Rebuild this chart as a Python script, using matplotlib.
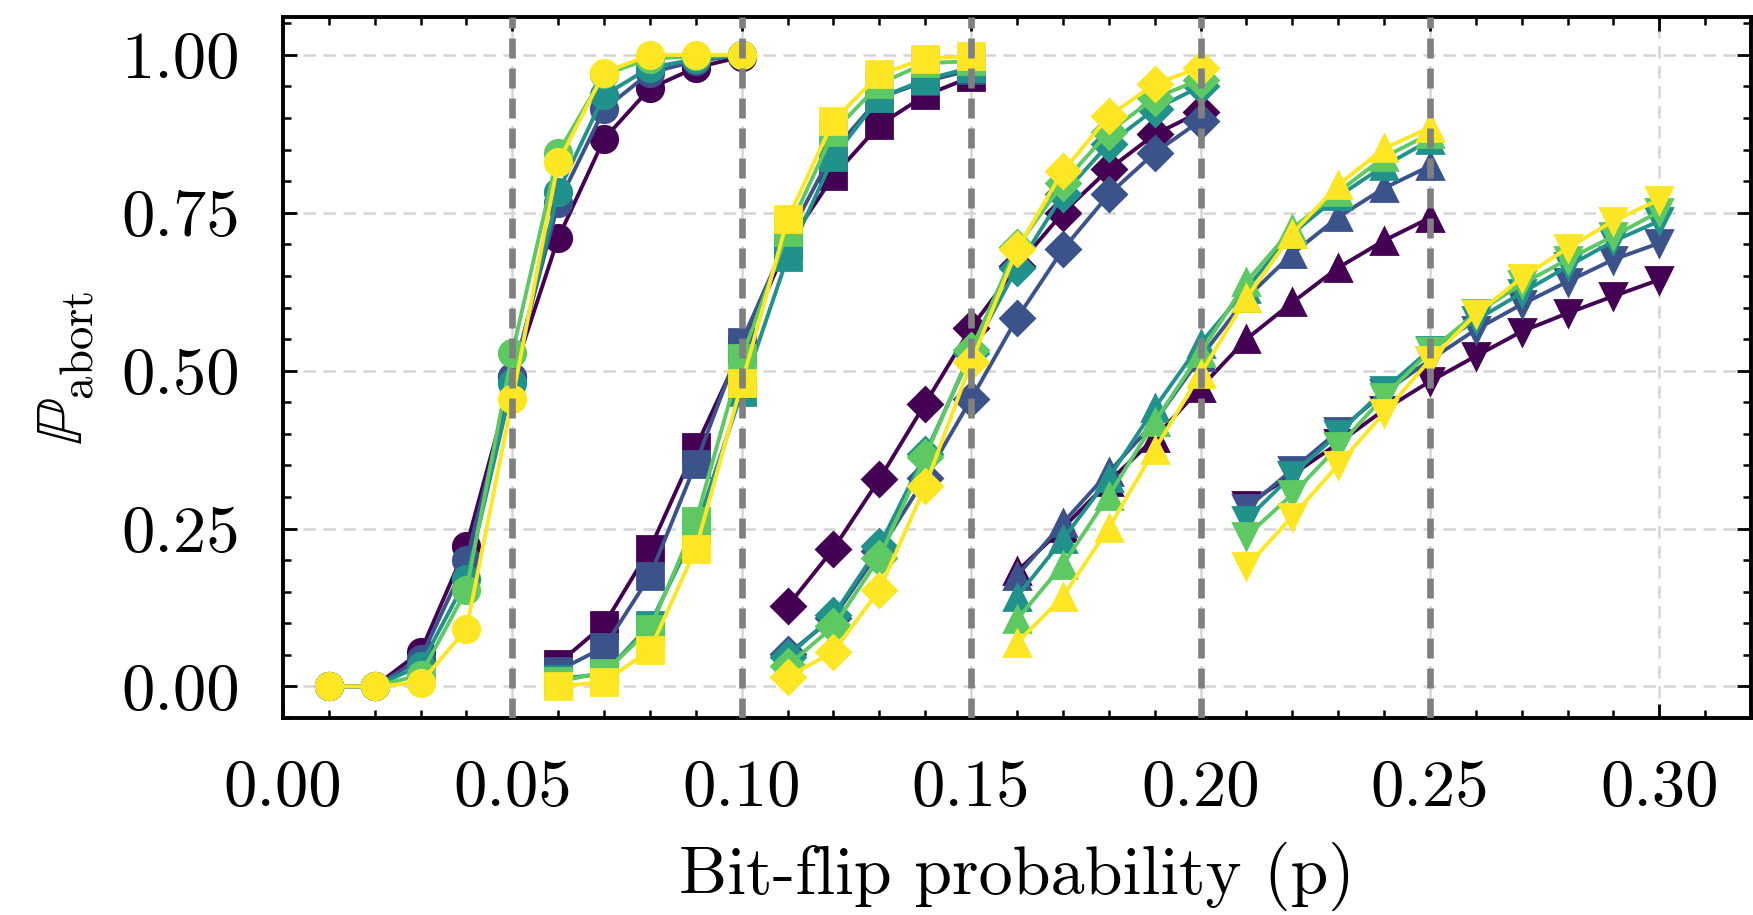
import matplotlib
matplotlib.use("Agg")
import matplotlib.pyplot as plt
import numpy as np
from matplotlib.ticker import MultipleLocator

plt.rcParams['font.family'] = 'serif'
plt.rcParams['font.serif'] = ['cmr10']
plt.rcParams['mathtext.fontset'] = 'cm'
plt.rcParams['axes.formatter.use_mathtext'] = True

# one block of 10 points per marker family
x_circle = [0.01, 0.02, 0.03, 0.04, 0.05, 0.06, 0.07, 0.08, 0.09, 0.10]
x_square = [0.06, 0.07, 0.08, 0.09, 0.10, 0.11, 0.12, 0.13, 0.14, 0.15]
x_diamond = [0.11, 0.12, 0.13, 0.14, 0.15, 0.16, 0.17, 0.18, 0.19, 0.20]
x_tri_up = [0.16, 0.17, 0.18, 0.19, 0.20, 0.21, 0.22, 0.23, 0.24, 0.25]
x_tri_down = [0.21, 0.22, 0.23, 0.24, 0.25, 0.26, 0.27, 0.28, 0.29, 0.30]

# rows: purple, blue, teal, green, yellow
y_circle = [
    [0.0, 0.0, 0.055, 0.222, 0.49, 0.71, 0.867, 0.947, 0.98, 0.997],
    [0.0, 0.0, 0.044, 0.20, 0.49, 0.765, 0.914, 0.972, 0.99, 1.0],
    [0.0, 0.0, 0.033, 0.17, 0.48, 0.783, 0.936, 0.98, 0.993, 1.0],
    [0.0, 0.0, 0.018, 0.153, 0.528, 0.845, 0.969, 0.994, 0.998, 1.0],
    [0.0, 0.0, 0.006, 0.091, 0.455, 0.83, 0.972, 1.0, 1.0, 1.0],
]
y_square = [
    [0.036, 0.098, 0.218, 0.379, 0.535, 0.70, 0.808, 0.889, 0.936, 0.965],
    [0.025, 0.062, 0.175, 0.353, 0.546, 0.71, 0.848, 0.932, 0.958, 0.976],
    [0.012, 0.02, 0.098, 0.248, 0.466, 0.68, 0.838, 0.932, 0.961, 0.98],
    [0.008, 0.022, 0.091, 0.262, 0.52, 0.72, 0.878, 0.954, 0.987, 0.99],
    [0.0, 0.007, 0.058, 0.218, 0.48, 0.74, 0.896, 0.969, 0.994, 0.998],
]
y_diamond = [
    [0.127, 0.218, 0.328, 0.448, 0.568, 0.665, 0.75, 0.819, 0.874, 0.91],
    [0.051, 0.109, 0.215, 0.33, 0.455, 0.583, 0.692, 0.779, 0.845, 0.896],
    [0.047, 0.113, 0.222, 0.368, 0.528, 0.663, 0.779, 0.859, 0.914, 0.95],
    [0.033, 0.095, 0.204, 0.364, 0.532, 0.696, 0.797, 0.878, 0.932, 0.961],
    [0.015, 0.055, 0.153, 0.317, 0.513, 0.692, 0.816, 0.903, 0.954, 0.98],
]
y_tri_up = [
    [0.182, 0.251, 0.324, 0.393, 0.473, 0.55, 0.608, 0.663, 0.706, 0.742],
    [0.175, 0.259, 0.339, 0.419, 0.521, 0.615, 0.685, 0.743, 0.789, 0.824],
    [0.142, 0.233, 0.33, 0.441, 0.543, 0.63, 0.717, 0.776, 0.824, 0.865],
    [0.106, 0.193, 0.302, 0.419, 0.528, 0.641, 0.725, 0.783, 0.838, 0.875],
    [0.069, 0.142, 0.251, 0.375, 0.495, 0.615, 0.717, 0.794, 0.852, 0.885],
]
y_tri_down = [
    [0.288, 0.335, 0.385, 0.438, 0.483, 0.523, 0.562, 0.591, 0.618, 0.644],
    [0.282, 0.343, 0.404, 0.465, 0.517, 0.565, 0.605, 0.641, 0.676, 0.702],
    [0.264, 0.335, 0.40, 0.47, 0.533, 0.58, 0.623, 0.665, 0.705, 0.737],
    [0.238, 0.304, 0.38, 0.459, 0.531, 0.591, 0.637, 0.676, 0.713, 0.752],
    [0.19, 0.269, 0.351, 0.433, 0.517, 0.589, 0.647, 0.694, 0.737, 0.771],
]

groups = [
    (x_circle, y_circle, 'o'),
    (x_square, y_square, 's'),
    (x_diamond, y_diamond, 'D'),
    (x_tri_up, y_tri_up, '^'),
    (x_tri_down, y_tri_down, 'v'),
]
thresholds = [0.05, 0.10, 0.15, 0.20, 0.25]

colors = plt.cm.viridis(np.linspace(0, 1, 5))

fig = plt.figure(figsize=(1753 / 200, 915 / 200), dpi=200)
ax = fig.add_axes([0.1614, 0.2153, 0.8375, 0.7661])

for xs, ys, m in groups:
    for k in range(5):
        ms = 9.5 if m != 'D' else 8.5
        ax.plot(xs, ys[k], marker=m, color=colors[k], ms=ms, lw=1.4, zorder=3)

for t in thresholds:
    ax.axvline(t, color='gray', ls=(0, (3, 1.5)), lw=2.4, zorder=4)

ax.set_xlim(0, 0.32)
ax.set_ylim(-0.05, 1.06)
ax.xaxis.set_major_locator(MultipleLocator(0.05))
ax.xaxis.set_minor_locator(MultipleLocator(0.01))
ax.yaxis.set_major_locator(MultipleLocator(0.25))
ax.yaxis.set_minor_locator(MultipleLocator(0.05))
ax.xaxis.set_major_formatter(matplotlib.ticker.FormatStrFormatter('%.2f'))
ax.yaxis.set_major_formatter(matplotlib.ticker.FormatStrFormatter('%.2f'))

ax.grid(True, which='major', color='#d5d5d5', ls=(0, (5, 3)), lw=0.9, zorder=0)
ax.set_axisbelow(True)

ax.tick_params(which='both', direction='in', top=True, right=True, labelsize=24)
ax.tick_params(which='major', length=5, width=1.0)
ax.tick_params(axis='x', which='major', pad=15)
ax.tick_params(axis='y', which='major', pad=15.5)
ax.tick_params(which='minor', length=3, width=0.9)
for s in ax.spines.values():
    s.set_linewidth(1.4)

ax.set_xlabel('Bit-flip probability (p)', fontsize=24.5, labelpad=8)
ax.set_ylabel(r'$\mathbb{P}_{\mathrm{abort}}$', fontsize=24, labelpad=9)

plt.savefig('out.png', dpi=200)
